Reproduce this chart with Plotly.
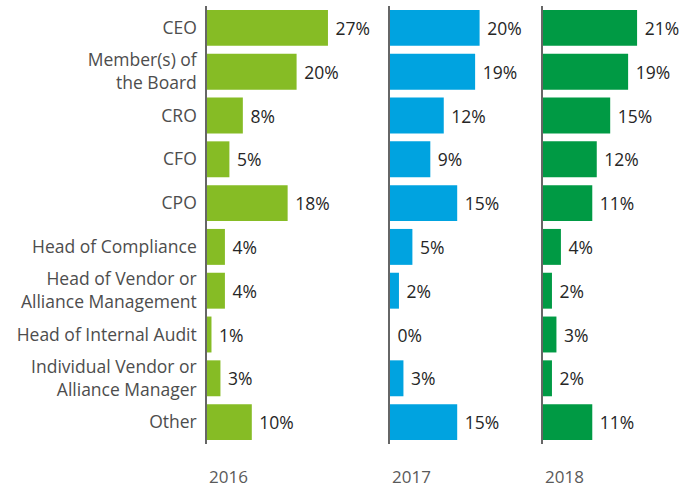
import plotly.graph_objects as go

# Survey responses: who owns third-party risk management, by year
roles = [
    "CEO",
    "Member(s) of<br>the Board",
    "CRO",
    "CFO",
    "CPO",
    "Head of Compliance",
    "Head of Vendor or<br>Alliance Management",
    "Head of Internal Audit",
    "Individual Vendor or<br>Alliance Manager",
    "Other",
]
years = ["2016", "2017", "2018"]
share_2016 = [27, 20, 8, 5, 18, 4, 4, 1, 3, 10]
share_2017 = [20, 19, 12, 9, 15, 5, 2, 0, 3, 15]
share_2018 = [21, 19, 15, 12, 11, 4, 2, 3, 2, 11]
year_colors = ["#86BC25", "#00A3E0", "#009A44"]

series = [share_2016, share_2017, share_2018]

W, H = 681, 488
left, top, bottom = 207, 6, 44
plot_w = W - left
px_per_pct = 4.48
# panel baselines (in pixels from the left edge of the plot area)
panel_starts = [0, 183, 336, plot_w]

FONT = "Open Sans, Noto Sans, sans-serif"

fig = go.Figure()
for i, (year, vals, color) in enumerate(zip(years, series, year_colors)):
    sfx = "" if i == 0 else str(i + 1)
    fig.add_trace(go.Bar(
        x=vals,
        y=roles,
        orientation="h",
        marker=dict(color=color, line=dict(width=0)),
        text=[f" {v}%" for v in vals],
        textposition="outside",
        textfont=dict(family=FONT, size=17.5, color="#262626"),
        cliponaxis=False,
        xaxis="x" + sfx,
        yaxis="y" + sfx,
        hoverinfo="skip",
        showlegend=False,
    ))

layout = dict(
    width=W,
    height=H,
    margin=dict(l=left, r=0, t=top, b=bottom, pad=0),
    paper_bgcolor="white",
    plot_bgcolor="white",
    bargap=0.18,
    font=dict(family=FONT, size=17, color="#4d4d4d"),
)

for i, year in enumerate(years):
    sfx = "" if i == 0 else str(i + 1)
    d0 = panel_starts[i] / plot_w
    d1 = panel_starts[i + 1] / plot_w
    span_px = panel_starts[i + 1] - panel_starts[i]
    layout["xaxis" + sfx] = dict(
        domain=[d0, d1],
        range=[0, span_px / px_per_pct],
        showgrid=False, zeroline=False, showticklabels=False,
        showline=False, fixedrange=True,
        anchor="y" + sfx,
    )
    layout["yaxis" + sfx] = dict(
        domain=[0, 1],
        categoryorder="array",
        categoryarray=roles[::-1],
        showgrid=False, zeroline=False,
        showline=True, linecolor="#666666", linewidth=1.5,
        showticklabels=(i == 0),
        ticks="",
        ticklabelstandoff=5,
        tickfont=dict(family=FONT, size=17.5, color="#4d4d4d"),
        anchor="x" + sfx,
        fixedrange=True,
    )

fig.update_layout(**layout)

# year captions under each panel
for i, year in enumerate(years):
    sfx = "" if i == 0 else str(i + 1)
    fig.add_annotation(
        text=year,
        xref=f"x{sfx} domain", x=0, xanchor="left",
        yref="paper", y=-0.075, yanchor="middle",
        showarrow=False,
        font=dict(family=FONT, size=17, color="#5a5a5a"),
    )

fig.write_html("out.html")
